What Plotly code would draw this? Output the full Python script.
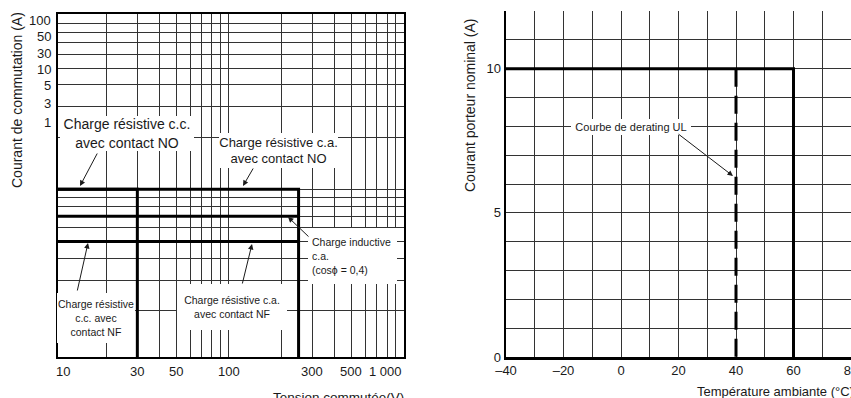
import math
import plotly.graph_objects as go

# ---------------- data : left panel (switching capacity) ----------------
DC_NO_V = [10, 30, 30]
DC_NO_A = [10, 10, 1]
AC_NO_V = [10, 250, 250]
AC_NO_A = [10, 10, 1]
AC_IND_V = [10, 250]
AC_IND_A = [7, 7]
NF_V = [10, 250]
NF_A = [5, 5]

LEFT_X_GRID = [20, 30, 40, 50, 60, 70, 80, 90, 100, 200, 300, 400, 500, 600, 700, 800, 900]
LEFT_Y_GRID = [2, 3, 4, 5, 6, 7, 8, 9, 10, 20, 30, 40, 50, 60, 70, 80, 90]
LEFT_X_TICK_AT = [10, 30, 50, 100, 300, 500, 1000]
LEFT_X_TICK_TEXT = ["10", "30", "50", "100", "300", "500", "1 000"]
LEFT_Y_TICK_AT = [94.6, 76, 60.4, 49.3, 39.5, 31.1, 24.2]
LEFT_Y_TICK_TEXT = ["100", "50", "30", "10", "5", "3", "1"]

# ---------------- data : right panel (derating) ----------------
RATED_T = [-40, 60, 60]
RATED_I = [10, 10, 0]
UL_T = [40, 40]
UL_I = [10, 0]
RIGHT_X_GRID = [-40, -30, -20, -10, 0, 10, 20, 30, 40, 50, 60, 70, 80]
RIGHT_X_TEXT = ["–40", "", "–20", "", "0", "", "20", "", "40", "", "60", "", "80"]
RIGHT_Y_GRID = [0, 1, 2, 3, 4, 5, 6, 7, 8, 9, 10, 11, 12]
RIGHT_Y_TEXT = ["0", "", "", "", "", "5", "", "", "", "", "10", "", ""]

# ---------------- layout helpers (page pixels) ----------------
W, H = 851, 398
ML, MR, MT, MB = 58, 0, 11, 41
PW = W - ML - MR
PH = H - MT - MB

LX_RANGE = [1.024, 3.0]
LY_RANGE = [0.0334, 2.011]


def px(x):
    return (x - ML) / PW


def py(y):
    return (H - MB - y) / PH


LX_DOM = [0, px(404)]
LY_DOM = [0, py(14)]


def lx_paper(v):
    f = (math.log10(v) - LX_RANGE[0]) / (LX_RANGE[1] - LX_RANGE[0])
    return LX_DOM[0] + f * (LX_DOM[1] - LX_DOM[0])


FONT = "Liberation Sans, Arial, Helvetica, sans-serif"
INK = "#1a1a1a"
GRID = "#333333"

fig = go.Figure()

thick = dict(color="black", width=3)
for xs, ys in [(DC_NO_V, DC_NO_A), (AC_NO_V, AC_NO_A), (AC_IND_V, AC_IND_A), (NF_V, NF_A)]:
    fig.add_trace(go.Scatter(x=xs, y=ys, mode="lines", line=thick, xaxis="x", yaxis="y",
                             showlegend=False, hoverinfo="skip"))

fig.add_trace(go.Scatter(x=RATED_T, y=RATED_I, mode="lines", line=thick, xaxis="x2", yaxis="y2",
                         showlegend=False, hoverinfo="skip"))
fig.add_trace(go.Scatter(x=UL_T, y=UL_I, mode="lines",
                         line=dict(color="black", width=3, dash="18px,9px"),
                         xaxis="x2", yaxis="y2", showlegend=False, hoverinfo="skip"))

tickfont = dict(family=FONT, size=13, color=INK)

fig.update_layout(
    width=W, height=H,
    margin=dict(l=ML, r=MR, t=MT, b=MB, autoexpand=False),
    paper_bgcolor="white", plot_bgcolor="white",
    hovermode=False,
    xaxis=dict(type="log", range=LX_RANGE, domain=LX_DOM, anchor="y", automargin=False,
               tickvals=LEFT_X_GRID, showticklabels=False, ticks="",
               showgrid=True, gridcolor=GRID, gridwidth=1, zeroline=False,
               showline=True, mirror=True, linecolor="black", linewidth=1.8),
    yaxis=dict(type="log", range=LY_RANGE, domain=LY_DOM, anchor="x", automargin=False,
               tickvals=LEFT_Y_GRID, showticklabels=False, ticks="",
               showgrid=True, gridcolor=GRID, gridwidth=1, zeroline=False,
               showline=True, mirror=True, linecolor="black", linewidth=1.8),
    xaxis2=dict(range=[-40, 80], domain=[px(506), 1], anchor="y2", automargin=False,
                tickvals=RIGHT_X_GRID, ticktext=RIGHT_X_TEXT, ticks="", tickfont=tickfont,
                ticklabeloverflow="allow",
                showgrid=True, gridcolor=GRID, gridwidth=1, zeroline=False,
                showline=True, linecolor="black", linewidth=2.5),
    yaxis2=dict(range=[0, 12], domain=[0, 1], anchor="x2", automargin=False,
                tickvals=RIGHT_Y_GRID, ticktext=RIGHT_Y_TEXT, ticks="", tickfont=tickfont,
                showgrid=True, gridcolor=GRID, gridwidth=1, zeroline=False,
                showline=True, linecolor="black", linewidth=2.5),
)

ann = []
# left y tick labels
for v, t in zip(LEFT_Y_TICK_AT, LEFT_Y_TICK_TEXT):
    ann.append(dict(xref="paper", yref="y", x=px(53), y=math.log10(v), text=t,
                    xanchor="right", yanchor="middle", showarrow=False, font=tickfont))
# left x tick labels
n = len(LEFT_X_TICK_AT)
for i, (v, t) in enumerate(zip(LEFT_X_TICK_AT, LEFT_X_TICK_TEXT)):
    anchor = "left" if i == 0 else ("right" if i == n - 1 else "center")
    ann.append(dict(xref="paper", yref="paper", x=lx_paper(v), y=py(362), text=t,
                    xanchor=anchor, yanchor="top", showarrow=False, font=tickfont))

# axis titles
ann.append(dict(xref="paper", yref="paper", x=px(17), y=py(100), text="Courant de commutation (A)",
                textangle=-90, showarrow=False, xanchor="center", yanchor="middle",
                font=dict(family=FONT, size=14, color=INK)))
ann.append(dict(xref="paper", yref="paper", x=px(470), y=py(105), text="Courant porteur nominal (A)",
                textangle=-90, showarrow=False, xanchor="center", yanchor="middle",
                font=dict(family=FONT, size=14, color=INK)))
ann.append(dict(xref="paper", yref="paper", x=px(406), y=py(388), text="Tension commutée(V)",
                showarrow=False, xanchor="right", yanchor="top",
                font=dict(family=FONT, size=13.5, color=INK)))
ann.append(dict(xref="paper", yref="paper", x=px(695), y=py(391), text="Température ambiante (°C)",
                showarrow=False, xanchor="left", yanchor="middle",
                font=dict(family=FONT, size=13, color=INK)))


def label(cx, cy, w, h, text, size, align="center", pad=0):
    ann.append(dict(xref="paper", yref="paper", x=px(cx), y=py(cy), text=text,
                    width=w - 2 * pad, height=h - 2 * pad, align=align, valign="middle",
                    xanchor="center", yanchor="middle", showarrow=False,
                    bgcolor="white", borderpad=pad, borderwidth=0,
                    font=dict(family=FONT, size=size, color=INK)))


label(127, 133, 134, 35, "Charge résistive c.c.<br>avec contact NO", 14)
label(278, 150, 119, 35, "Charge résistive c.a.<br>avec contact NO", 13)
label(352, 256, 89, 56, "Charge inductive<br>c.a.<br>(cosϕ = 0,4)", 10.5, "left", 4)
label(96, 318, 78, 50, "Charge résistive<br>c.c. avec<br>contact NF", 10.5)
label(232, 307, 110, 46, "Charge résistive c.a.<br>avec contact NF", 10.5)
label(631, 127, 120, 16, "Courbe de derating UL", 11)


def arrow(tx, ty, hx, hy):
    ann.append(dict(xref="paper", yref="paper", x=px(hx), y=py(hy), text="",
                    showarrow=True, ax=tx - hx, ay=ty - hy, axref="pixel", ayref="pixel",
                    arrowhead=2, arrowsize=1.1, arrowwidth=1, arrowcolor=INK, standoff=0))


arrow(98, 152, 80, 186)
arrow(254, 167, 243, 186)
arrow(310, 238, 288, 217)
arrow(77, 292, 88, 243)
arrow(242, 285, 252, 244)
arrow(677, 133, 733, 176)

fig.update_layout(annotations=ann)
fig.write_html(
    "out.html",
    config={"displayModeBar": False, "staticPlot": True},
    post_script="document.documentElement.style.overflow='hidden';"
                "document.body.style.margin='0';document.body.style.overflow='hidden';",
)
